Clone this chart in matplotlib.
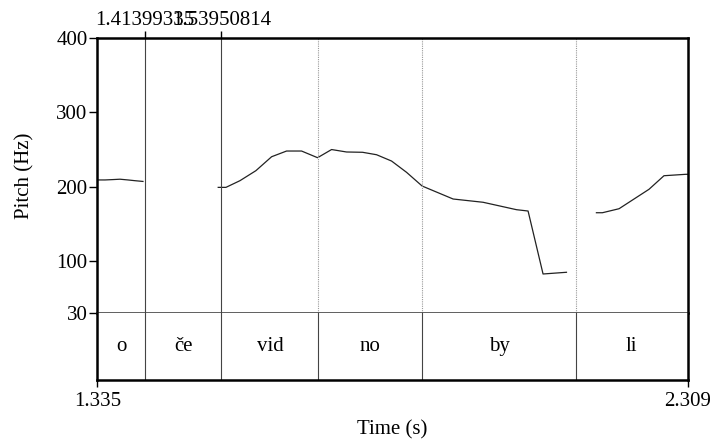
# Praat-style pitch contour over a syllable TextGrid tier
import matplotlib.pyplot as plt

plt.rcParams["font.family"] = ["Liberation Serif", "DejaVu Serif"]

T_START, T_END = 1.335, 2.309
F_MIN, F_MAX = 30, 400

# pitch contour, three voiced stretches (time s, f0 Hz)
seg1_t = [1.335, 1.3477, 1.3609, 1.3724, 1.3856, 1.3971, 1.4103]
seg1_f = [209, 209, 209.5, 210, 209, 208, 207]

seg2_t = [1.5344, 1.5471, 1.5702, 1.5965, 1.6224, 1.6471, 1.6718, 1.6982,
          1.7213, 1.7460, 1.7724, 1.7955, 1.8202, 1.8449, 1.8706, 1.9217,
          1.9711, 2.0262, 2.0453, 2.0700, 2.1086]
seg2_f = [199, 199, 208, 221.5, 240.3, 248, 248, 239,
          250, 246.7, 246.3, 243, 234.5, 219.3, 200.8, 183.3,
          178.9, 168.9, 167.1, 82.2, 84.5]

seg3_t = [2.1580, 2.1679, 2.1953, 2.2447, 2.2694, 2.3052, 2.309]
seg3_f = [164.8, 164.8, 170.2, 196.4, 214.7, 216.6, 216.6]

# syllable tier
boundaries = [1.41399335, 1.53950814, 1.6997, 1.8711, 2.1239]
marked = [True, True, False, False, False]   # boundaries with a top mark
syllables = ["o", "če", "vid", "no", "by", "li"]
top_labels = ["1.41399335", "1.53950814"]
y_ticks = [400, 300, 200, 100, 30]

W, H = 715, 441
L, R, TOP, MID, BOT = 97.3, 688, 38.3, 312.7, 380

fig = plt.figure(figsize=(W / 100, H / 100), dpi=100)
ax = fig.add_axes([L / W, 1 - MID / H, (R - L) / W, (MID - TOP) / H])
tg = fig.add_axes([L / W, 1 - BOT / H, (R - L) / W, (BOT - MID) / H])

line_col = "#222222"
fs = 15

# --- pitch panel
for t, f in [(seg1_t, seg1_f), (seg2_t, seg2_f), (seg3_t, seg3_f)]:
    ax.plot(t, f, color=line_col, lw=0.9, solid_joinstyle="round")

for b, m in zip(boundaries, marked):
    if m:
        ax.axvline(b, color="#444444", lw=0.8)
    else:
        ax.axvline(b, color="#999999", lw=0.8, ls=(0, (1, 1)))

ax.set_xlim(T_START, T_END)
ax.set_ylim(F_MIN, F_MAX)
ax.set_yticks(y_ticks)
ax.set_yticklabels([str(v) for v in y_ticks], fontsize=fs)
ax.tick_params(axis="y", direction="out", length=6, width=1, pad=1, colors="black")
ax.xaxis.set_ticks_position("top")
ax.set_xticks([b for b, m in zip(boundaries, marked) if m])
ax.set_xticklabels(top_labels, fontsize=fs)
ax.tick_params(axis="x", direction="out", length=5, width=1, pad=1)
ax.set_ylabel("Pitch (Hz)", fontsize=fs)
ax.yaxis.set_label_coords(-0.106, 0.5)

for side in ["left", "top", "right"]:
    ax.spines[side].set_linewidth(1.8)
    ax.spines[side].set_color("black")
ax.spines["bottom"].set_linewidth(1.2)
ax.spines["bottom"].set_color("#444444")

# --- text tier
edges = [T_START] + boundaries + [T_END]
for b in boundaries:
    tg.axvline(b, color="#444444", lw=0.8)
for i, s in enumerate(syllables):
    tg.text((edges[i] + edges[i + 1]) / 2, 0.5, s, ha="center", va="center",
            fontsize=fs)

tg.set_xlim(T_START, T_END)
tg.set_ylim(0, 1)
tg.set_yticks([])
tg.set_xticks([T_START, T_END])
tg.set_xticklabels(["1.335", "2.309"], fontsize=fs)
tg.tick_params(axis="x", direction="out", length=5, width=1, pad=4)
tg.set_xlabel("Time (s)", fontsize=fs, labelpad=6)
tg.spines["top"].set_visible(False)
for side in ["left", "bottom", "right"]:
    tg.spines[side].set_linewidth(1.8)
    tg.spines[side].set_color("black")

fig.savefig("out.png", dpi=100)
